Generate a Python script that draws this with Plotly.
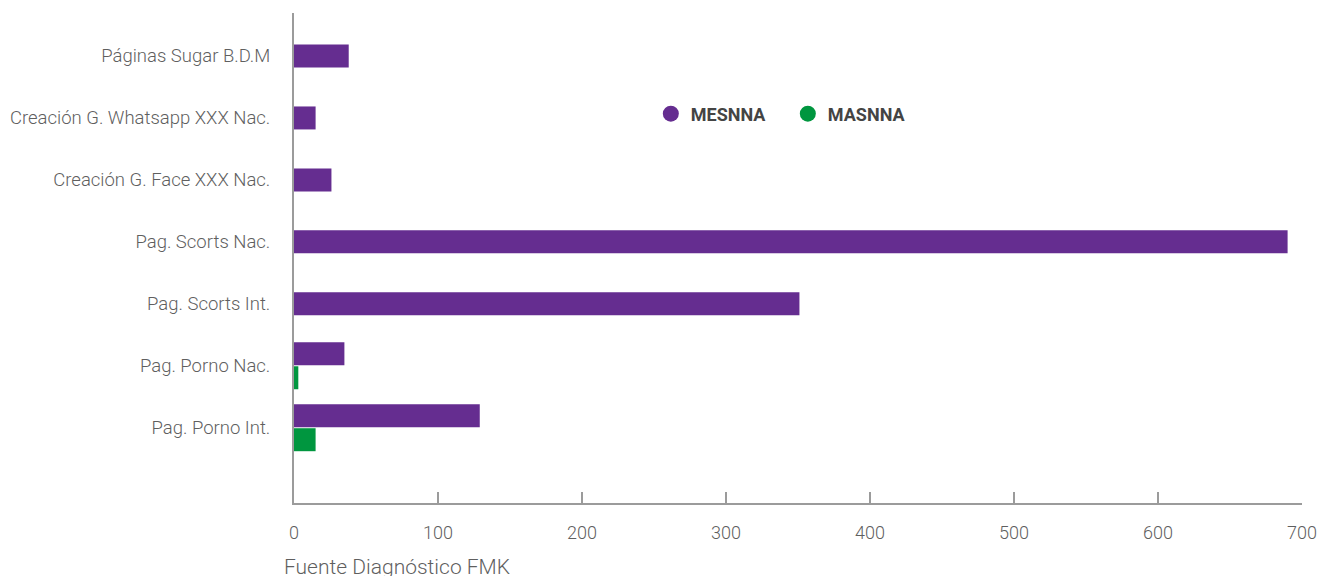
import plotly.graph_objects as go

# Categories, top to bottom
categories = [
    "Páginas Sugar B.D.M",
    "Creación G. Whatsapp XXX Nac.",
    "Creación G. Face XXX Nac.",
    "Pag. Scorts Nac.",
    "Pag. Scorts Int.",
    "Pag. Porno Nac.",
    "Pag. Porno Int.",
]
mesnna = [38, 15, 26, 690, 351, 35, 129]
masnna = [None, None, None, None, None, 3, 15]

x_ticks = [0, 100, 200, 300, 400, 500, 600, 700]

PURPLE = "#652D90"
GREEN = "#00963F"
AXIS_GRAY = "#9B9B9B"
TEXT_GRAY = "#5F5F5F"
FONT = "Roboto"

# Bar thickness and the pairing layout (purple above green when both exist)
bar_w = 0.371
gap = 0.008
has_pair = [g is not None for g in masnna]
purple_offset = [-(bar_w + gap) if p else -bar_w / 2 for p in has_pair]
green_offset = [gap if p else 0 for p in has_pair]

fig = go.Figure()
fig.add_trace(go.Bar(
    y=categories, x=mesnna, orientation="h",
    marker=dict(color=PURPLE, line=dict(width=0)),
    width=[bar_w] * len(categories), offset=purple_offset,
    showlegend=False, hoverinfo="x+y", name="MESNNA",
))
fig.add_trace(go.Bar(
    y=categories, x=masnna, orientation="h",
    marker=dict(color=GREEN, line=dict(width=0)),
    width=[bar_w] * len(categories), offset=green_offset,
    showlegend=False, hoverinfo="x+y", name="MASNNA",
))

# Round legend markers
for name, color in [("MESNNA", PURPLE), ("MASNNA", GREEN)]:
    fig.add_trace(go.Scatter(
        x=[None], y=[None], mode="markers", name=name,
        marker=dict(symbol="circle", size=18, color=color),
        showlegend=True,
    ))

n = len(categories)
fig.update_layout(
    width=1321, height=576,
    margin=dict(l=294, r=19, t=13, b=73, pad=0, autoexpand=False),
    paper_bgcolor="white", plot_bgcolor="white",
    barmode="overlay",
    font=dict(family=FONT, color=TEXT_GRAY),
    legend=dict(
        orientation="h", x=0.354, y=0.794, xanchor="left", yanchor="middle",
        font=dict(family=FONT, size=18, color="#444444", weight="bold"),
        bgcolor="rgba(0,0,0,0)", itemsizing="trace",
        entrywidth=92, entrywidthmode="pixels",
    ),
    xaxis=dict(
        range=[0, 700], tickvals=x_ticks, ticktext=[str(v) for v in x_ticks],
        showgrid=False, zeroline=False, automargin=False,
        showline=True, linecolor=AXIS_GRAY, linewidth=2,
        ticks="inside", ticklen=11, tickwidth=2, tickcolor=AXIS_GRAY,
        tickfont=dict(family=FONT, size=18, color=TEXT_GRAY, weight=300),
        ticklabelstandoff=12,
    ),
    yaxis=dict(
        type="category", categoryorder="array", categoryarray=categories,
        range=[n - 1 + 1.215, -0.694],
        showgrid=False, zeroline=False, automargin=False,
        showline=True, linecolor=AXIS_GRAY, linewidth=2,
        ticks="", tickfont=dict(family=FONT, size=18.5, color=TEXT_GRAY, weight=300),
        ticklabelstandoff=18,
    ),
    annotations=[dict(
        text="Fuente Diagnóstico FMK", xref="paper", yref="paper",
        x=-0.012, y=-0.1306, xanchor="left", yanchor="middle", showarrow=False,
        font=dict(family=FONT, size=21, color=TEXT_GRAY, weight=300),
    )],
)

fig.write_html("out.html")
